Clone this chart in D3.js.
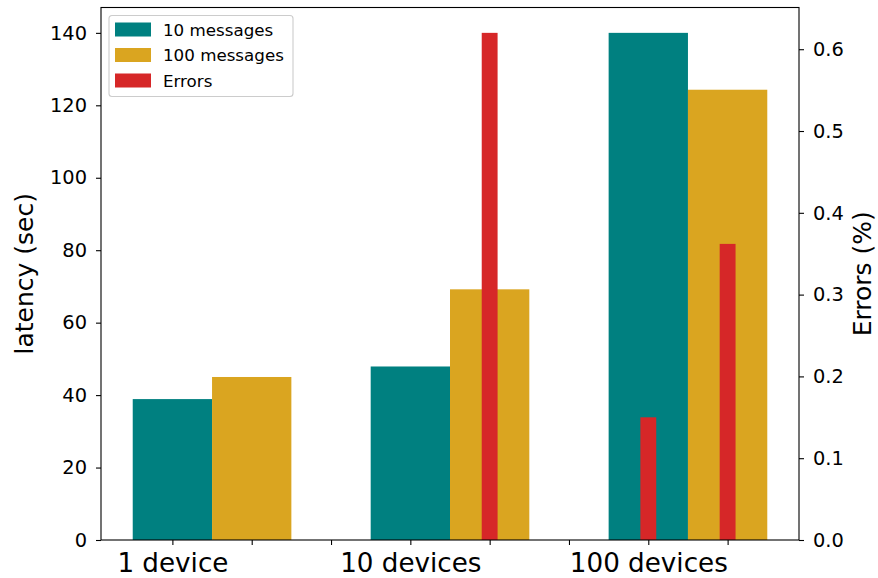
<!DOCTYPE html>
<html>
<head>
<meta charset="utf-8">
<script src="https://cdn.jsdelivr.net/npm/d3@7"></script>
<style>
  body { margin: 0; background: #fff; }
  svg { display: block; font-family: "DejaVu Sans", sans-serif; }
</style>
</head>
<body>
<svg id="chart" width="878" height="578"></svg>
<script>
// ---- data ----
const categories = ["1 device", "10 devices", "100 devices"];
const latency10 = [38.9, 47.9, 140.0];
const latency100 = [45.0, 69.2, 124.3];
const errors10 = [0, 0, 0.15];
const errors100 = [0, 0.62, 0.362];
const seriesNames = ["10 messages", "100 messages", "Errors"];
const seriesColors = ["#008080", "#DAA520", "#D62728"];
const leftTicks = [0, 20, 40, 60, 80, 100, 120, 140];
const rightTicks = [0, 0.1, 0.2, 0.3, 0.4, 0.5, 0.6];
const groupStart = [0, 3, 6];

// ---- layout ----
const svg = d3.select("#chart");
const L = 101, R = 799, T = 7.5, B = 540;

const x = d3.scaleLinear().domain([-0.9, 7.9]).range([L, R]);
const yL = d3.scaleLinear().domain([0, 140 * 1.05]).range([B, T]);
const yR = d3.scaleLinear().domain([0, 0.62 * 1.05]).range([B, T]);

const barW = x(1) - x(0);
const errW = x(0.2) - x(0);

// bars
const bars = [];
categories.forEach((c, i) => {
  bars.push({ pos: groupStart[i], v: latency10[i], color: seriesColors[0] });
  bars.push({ pos: groupStart[i] + 1, v: latency100[i], color: seriesColors[1] });
});
svg.append("g").selectAll("rect").data(bars).join("rect")
  .attr("x", d => x(d.pos) - barW / 2)
  .attr("width", barW)
  .attr("y", d => yL(d.v))
  .attr("height", d => yL(0) - yL(d.v))
  .attr("fill", d => d.color);

const errs = [];
categories.forEach((c, i) => {
  errs.push({ pos: groupStart[i], v: errors10[i] });
  errs.push({ pos: groupStart[i] + 1, v: errors100[i] });
});
svg.append("g").selectAll("rect").data(errs.filter(d => d.v > 0)).join("rect")
  .attr("x", d => x(d.pos) - errW / 2)
  .attr("width", errW)
  .attr("y", d => yR(d.v))
  .attr("height", d => yR(0) - yR(d.v))
  .attr("fill", seriesColors[2]);

// frame
svg.append("rect").attr("x", L).attr("y", T).attr("width", R - L).attr("height", B - T)
  .attr("fill", "none").attr("stroke", "#000").attr("stroke-width", 1.1);

// x axis
const xTickVals = d3.range(0, 8);
const xLabelMap = {};
groupStart.forEach((p, i) => xLabelMap[p] = categories[i]);
const xAxis = svg.append("g").attr("transform", `translate(0,${B})`)
  .call(d3.axisBottom(x).tickValues(xTickVals).tickSize(5).tickPadding(8)
    .tickFormat(d => xLabelMap[d] || ""));
xAxis.select(".domain").remove();
xAxis.selectAll("line").attr("stroke", "#000").attr("stroke-width", 1.1);
xAxis.selectAll("text").attr("font-size", 26.2).attr("fill", "#000")
  .attr("font-family", "DejaVu Sans").attr("dy", "0.71em");

// left axis
const yAxisL = svg.append("g").attr("transform", `translate(${L},0)`)
  .call(d3.axisLeft(yL).tickValues(leftTicks).tickSize(5).tickPadding(9).tickFormat(d3.format("d")));
yAxisL.select(".domain").remove();
yAxisL.selectAll("line").attr("stroke", "#000").attr("stroke-width", 1.1);
yAxisL.selectAll("text").attr("font-size", 19.4).attr("fill", "#000").attr("font-family", "DejaVu Sans");

// right axis
const yAxisR = svg.append("g").attr("transform", `translate(${R},0)`)
  .call(d3.axisRight(yR).tickValues(rightTicks).tickSize(5).tickPadding(9).tickFormat(d3.format(".1f")));
yAxisR.select(".domain").remove();
yAxisR.selectAll("line").attr("stroke", "#000").attr("stroke-width", 1.1);
yAxisR.selectAll("text").attr("font-size", 19.4).attr("fill", "#000").attr("font-family", "DejaVu Sans");

// axis titles
svg.append("text").attr("transform", `translate(33,${(T + B) / 2}) rotate(-90)`)
  .attr("text-anchor", "middle").attr("font-size", 25).attr("fill", "#000")
  .text("latency (sec)");
svg.append("text").attr("transform", `translate(871,${(T + B) / 2}) rotate(-90)`)
  .attr("text-anchor", "middle").attr("font-size", 25).attr("fill", "#000")
  .text("Errors (%)");

// legend
const lg = svg.append("g").attr("transform", "translate(109,15.5)");
lg.append("rect").attr("width", 184).attr("height", 81).attr("rx", 3)
  .attr("fill", "#fff").attr("fill-opacity", 0.8).attr("stroke", "#ccc").attr("stroke-width", 1.1);
seriesNames.forEach((n, i) => {
  const yy = 14 + i * 25.5;
  lg.append("rect").attr("x", 6).attr("y", yy - 7).attr("width", 36).attr("height", 14)
    .attr("fill", seriesColors[i]);
  lg.append("text").attr("x", 54).attr("y", yy).attr("dy", "0.36em")
    .attr("font-size", 16.7).attr("fill", "#000").text(n);
});
</script>
</body>
</html>
